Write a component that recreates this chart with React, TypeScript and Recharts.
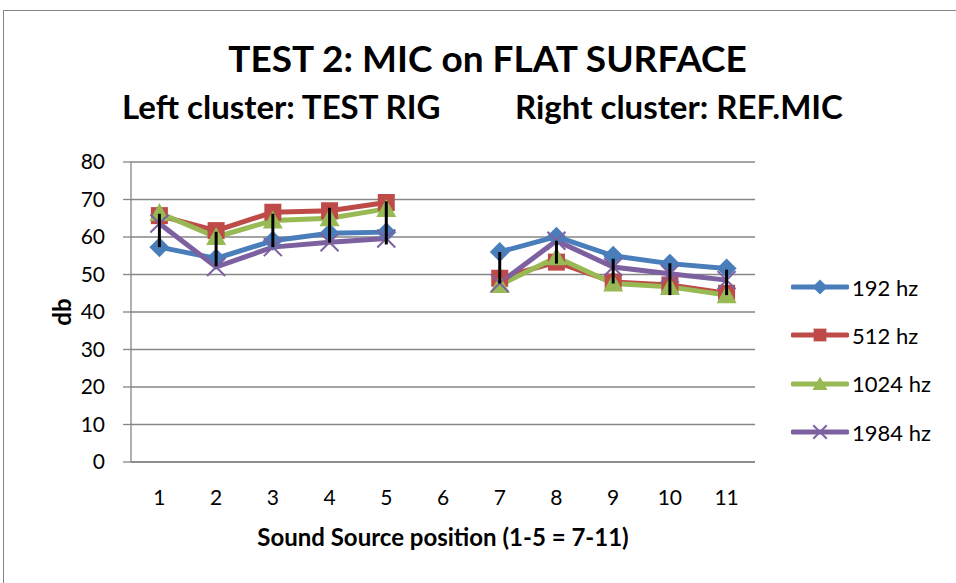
import { ComposedChart, Line, XAxis, YAxis, CartesianGrid, Legend, ErrorBar } from 'recharts';

const positions = ['1', '2', '3', '4', '5', '6', '7', '8', '9', '10', '11'];
const hz192 = [57.3, 54.3, 59, 61, 61.3, null, 56, 60.1, 55, 52.9, 51.6];
const hz512 = [65.7, 61.7, 66.6, 67, 69.2, null, 49, 53.3, 48, 47.2, 45];
const hz1024 = [66.4, 60, 64.4, 65, 67.5, null, 47.2, 54.6, 47.6, 46.7, 44.5];
const hz1984 = [63.6, 52, 57.3, 58.6, 59.6, null, 47.7, 59, 52, 50.2, 48.5];
// black range markers (top / bottom of each bar)
const errTop = [66.2, 61.4, 66.2, 67.8, 69.5, null, 56, 59, 54.2, 53, 51.3];
const errBottom = [57.3, 52.2, 57.3, 58.5, 58, null, 47.6, 52.9, 47.6, 44.5, 44.5];
const yTicks = [0, 10, 20, 30, 40, 50, 60, 70, 80];

const data = positions.map((pos, i) => ({
  pos,
  hz192: hz192[i],
  hz512: hz512[i],
  hz1024: hz1024[i],
  hz1984: hz1984[i],
  errTop: errTop[i],
  errSpan: errTop[i] == null ? null : [errTop[i]! - errBottom[i]!, 0],
}));

const FONT = 'Lato, "Open Sans", sans-serif';
const GRID = '#868686';

type Kind = 'diamond' | 'square' | 'triangle' | 'cross';

const series: { key: string; name: string; color: string; marker: Kind }[] = [
  { key: 'hz192', name: '192 hz', color: '#4A7EBB', marker: 'diamond' },
  { key: 'hz512', name: '512 hz', color: '#BE4B48', marker: 'square' },
  { key: 'hz1024', name: '1024 hz', color: '#98B954', marker: 'triangle' },
  { key: 'hz1984', name: '1984 hz', color: '#7D60A0', marker: 'cross' },
];

function Marker({ kind, cx, cy, color, s = 1 }: { kind: Kind; cx: number; cy: number; color: string; s?: number }) {
  if (kind === 'diamond') {
    const r = 10 * s;
    return <polygon points={`${cx},${cy - r} ${cx + r},${cy} ${cx},${cy + r} ${cx - r},${cy}`} fill={color} />;
  }
  if (kind === 'square') {
    const r = 8.5 * s;
    return <rect x={cx - r} y={cy - r} width={2 * r} height={2 * r} fill={color} />;
  }
  if (kind === 'triangle') {
    const r = 10 * s;
    return <polygon points={`${cx},${cy - r} ${cx + r},${cy + r * 0.8} ${cx - r},${cy + r * 0.8}`} fill={color} />;
  }
  const r = 9 * s;
  return (
    <g stroke={color} strokeWidth={2}>
      <line x1={cx - r} y1={cy - r} x2={cx + r} y2={cy + r} />
      <line x1={cx - r} y1={cy + r} x2={cx + r} y2={cy - r} />
    </g>
  );
}

function makeDot(kind: Kind, color: string) {
  return (props: any) => {
    const { cx, cy, index, value } = props;
    if (value == null || cx == null || cy == null) return <g key={`d-${index}`} />;
    return (
      <g key={`d-${index}`}>
        <Marker kind={kind} cx={cx} cy={cy} color={color} />
      </g>
    );
  };
}

function LegendBox() {
  return (
    <div style={{ fontFamily: FONT, fontSize: 22, color: '#000' }}>
      {series.map((s) => (
        <div key={s.key} style={{ display: 'flex', alignItems: 'center', height: 48.3 }}>
          <svg width={58} height={24} style={{ display: 'block' }}>
            <line x1={2} y1={12} x2={56} y2={12} stroke={s.color} strokeWidth={5} strokeLinecap="round" />
            <Marker kind={s.marker} cx={29} cy={12} color={s.color} s={0.75} />
          </svg>
          <span style={{ marginLeft: 3 }}>{s.name}</span>
        </div>
      ))}
    </div>
  );
}

const txt = { position: 'absolute' as const, fontFamily: FONT, fontWeight: 700, lineHeight: 1, whiteSpace: 'pre' as const };

export default function App() {
  return (
    <div style={{ position: 'absolute', left: 0, top: 0, width: 956, height: 583, overflow: 'hidden', background: '#fff' }}>
      <div style={{ position: 'absolute', left: 3, top: 10, width: 1000, height: 700, border: `1px solid ${GRID}` }} />
      <div style={{ ...txt, left: 0, top: 39, width: 975, textAlign: 'center', fontSize: 37 }}>
        TEST 2: MIC on FLAT SURFACE
      </div>
      <div style={{ ...txt, left: 122, top: 90, fontSize: 33 }}>Left cluster: TEST RIG</div>
      <div style={{ ...txt, left: 515, top: 90, fontSize: 33 }}>Right cluster: REF.MIC</div>
      <div style={{ ...txt, left: 62, top: 312, transform: 'translate(-50%, -50%) rotate(-90deg)', fontSize: 24 }}>
        db
      </div>
      <div style={{ ...txt, left: 0, top: 525, width: 886, textAlign: 'center', fontSize: 24 }}>
        Sound Source position (1-5 = 7-11)
      </div>
      <div style={{ position: 'absolute', left: 0, top: 0 }}>
        <ComposedChart width={956} height={583} data={data} margin={{ top: 162, right: 201, left: 0, bottom: 91 }}>
          <CartesianGrid vertical={false} stroke={GRID} strokeWidth={1.3} />
          <XAxis
            dataKey="pos"
            height={30}
            padding={{ left: 28.4, right: 28.4 }}
            tickLine={false}
            tickSize={0}
            tickMargin={28}
            axisLine={{ stroke: GRID, strokeWidth: 1.3 }}
            tick={{ fill: '#000', fontSize: 21, fontFamily: FONT }}
            interval={0}
          />
          <YAxis
            width={131}
            domain={[0, 80]}
            ticks={yTicks}
            tickSize={8}
            tickMargin={18}
            tickLine={{ stroke: GRID, strokeWidth: 1.3 }}
            axisLine={{ stroke: GRID, strokeWidth: 1.3 }}
            tick={{ fill: '#000', fontSize: 21, fontFamily: FONT }}
          />
          <Legend
            layout="horizontal"
            verticalAlign="middle"
            wrapperStyle={{ position: 'absolute', left: 791, top: 263, width: 165, height: 200 }}
            content={() => <LegendBox />}
          />
          {series.map((s) => (
            <Line
              key={s.key}
              dataKey={s.key}
              name={s.name}
              stroke={s.color}
              strokeWidth={5}
              dot={makeDot(s.marker, s.color)}
              activeDot={false}
              isAnimationActive={false}
            />
          ))}
          <Line dataKey="errTop" stroke="none" dot={false} activeDot={false} legendType="none" isAnimationActive={false} zIndex={900}>
            <ErrorBar dataKey="errSpan" width={0} stroke="#000" strokeWidth={3} direction="y" zIndex={1000} />
          </Line>
        </ComposedChart>
      </div>
    </div>
  );
}
